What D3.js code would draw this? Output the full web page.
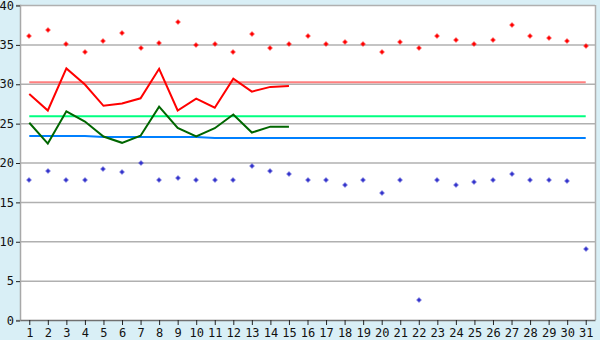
<!DOCTYPE html>
<html><head><meta charset="utf-8">
<script src="https://cdn.jsdelivr.net/npm/d3@7"></script>
<style>
html,body{margin:0;padding:0;background:#d9eff6;}
svg{display:block;}
text{font-family:"DejaVu Sans Mono",monospace;font-size:12px;fill:#111;}
</style></head><body>
<svg id="c" width="600" height="340"></svg>
<script>
const days = d3.range(1, 32).map(String);
const yTicks = [0,5,10,15,20,25,30,35,40];
const maxPts = [36.0,36.8,35.0,34.0,35.4,36.5,34.5,35.2,37.8,34.9,35.0,34.0,36.3,34.5,35.0,36.1,35.0,35.3,35.0,34.0,35.3,34.6,36.0,35.5,35.0,35.5,37.4,36.0,35.8,35.4,34.75];
const minPts = [17.8,18.9,17.8,17.8,19.2,18.8,20.0,17.8,18.0,17.8,17.8,17.8,19.55,18.9,18.5,17.8,17.8,17.2,17.8,16.1,17.8,2.5,17.8,17.2,17.5,17.8,18.6,17.8,17.8,17.7,9.0];
const maxLine = [28.7,26.6,31.95,29.9,27.2,27.5,28.15,31.9,26.6,28.1,26.95,30.65,29.0,29.6,29.7];
const minLine = [25.05,22.4,26.5,25.2,23.3,22.5,23.4,27.1,24.4,23.3,24.35,26.1,23.8,24.55,24.55];
const maxAvg = Array(31).fill(30.2);
const meanAvg = Array(31).fill(25.86);
const minAvg = [23.35,23.35,23.35,23.35,23.25,23.25,23.25,23.25,23.25,23.25,23.1,23.1,23.1,23.1,23.1,23.1,23.1,23.1,23.1,23.1,23.1,23.1,23.1,23.1,23.1,23.1,23.1,23.1,23.1,23.1,23.1];

const L=20, R=595, T=5, B=320;
const svg = d3.select("#c");
const x = d3.scalePoint().domain(days).range([L,R]).padding(0.5);
const y = d3.scaleLinear().domain([0,40]).range([B,T]);

svg.append("rect").attr("x",L).attr("y",T).attr("width",R-L).attr("height",B-T).attr("fill","#fff");

// grid
svg.append("g").selectAll("line").data(yTicks.filter(d=>d>0)).join("line")
  .attr("x1",L).attr("x2",R).attr("y1",d=>y(d)+0.5).attr("y2",d=>y(d)+0.5)
  .attr("stroke","#b0b0b0").attr("stroke-width",1.5);
svg.append("line").attr("x1",R+0.5).attr("x2",R+0.5).attr("y1",T).attr("y2",B).attr("stroke","#b0b0b0").attr("stroke-width",1.5);

// axes
const ya = svg.append("g").attr("transform",`translate(${L},0)`)
  .call(d3.axisLeft(y).tickValues(yTicks).tickSize(4).tickPadding(2));
ya.select(".domain").attr("stroke","#a8a8a8").attr("stroke-width",1.5);
ya.selectAll(".tick line").attr("stroke","#222");
ya.selectAll(".tick line").attr("transform","translate(0,0.5)");
ya.selectAll(".tick text").attr("fill","#111").attr("dy","0.35em").style("font-family","DejaVu Sans Mono").style("font-size","12px");

const xa = svg.append("g").attr("transform",`translate(0,${B})`)
  .call(d3.axisBottom(x).tickSize(5).tickPadding(3).tickSizeOuter(0));
xa.select(".domain").attr("stroke","#707070").attr("stroke-width",1.5);
xa.selectAll(".tick line").attr("stroke","#222");
xa.selectAll(".tick text").attr("fill","#111").style("font-family","DejaVu Sans Mono").style("font-size","12px");

const line = d3.line().x((d,i)=>x(days[i])).y(d=>y(d));
function path(data,color,w){
  svg.append("path").datum(data).attr("d",line).attr("fill","none").attr("stroke",color).attr("stroke-width",w);
}
path(maxAvg,"#ff8080",2);
path(meanAvg,"#00ff80",2);
path(minAvg,"#0080ff",2);
path(maxLine,"#ff0000",2);
path(minLine,"#006600",2);

const marker = "M-0.5,-2.5h1v1h1v1h1v1h-1v1h-1v1h-1v-1h-1v-1h-1v-1h1v-1h1z";
function pts(data,color){
  svg.append("g").selectAll("path").data(data).join("path")
    .attr("d",marker).attr("fill",color)
    .attr("transform",(d,i)=>`translate(${Math.round(x(days[i]))},${Math.round(y(d))})`);
}
pts(maxPts,"#ff0000");
pts(minPts,"#3333cc");
</script></body></html>
